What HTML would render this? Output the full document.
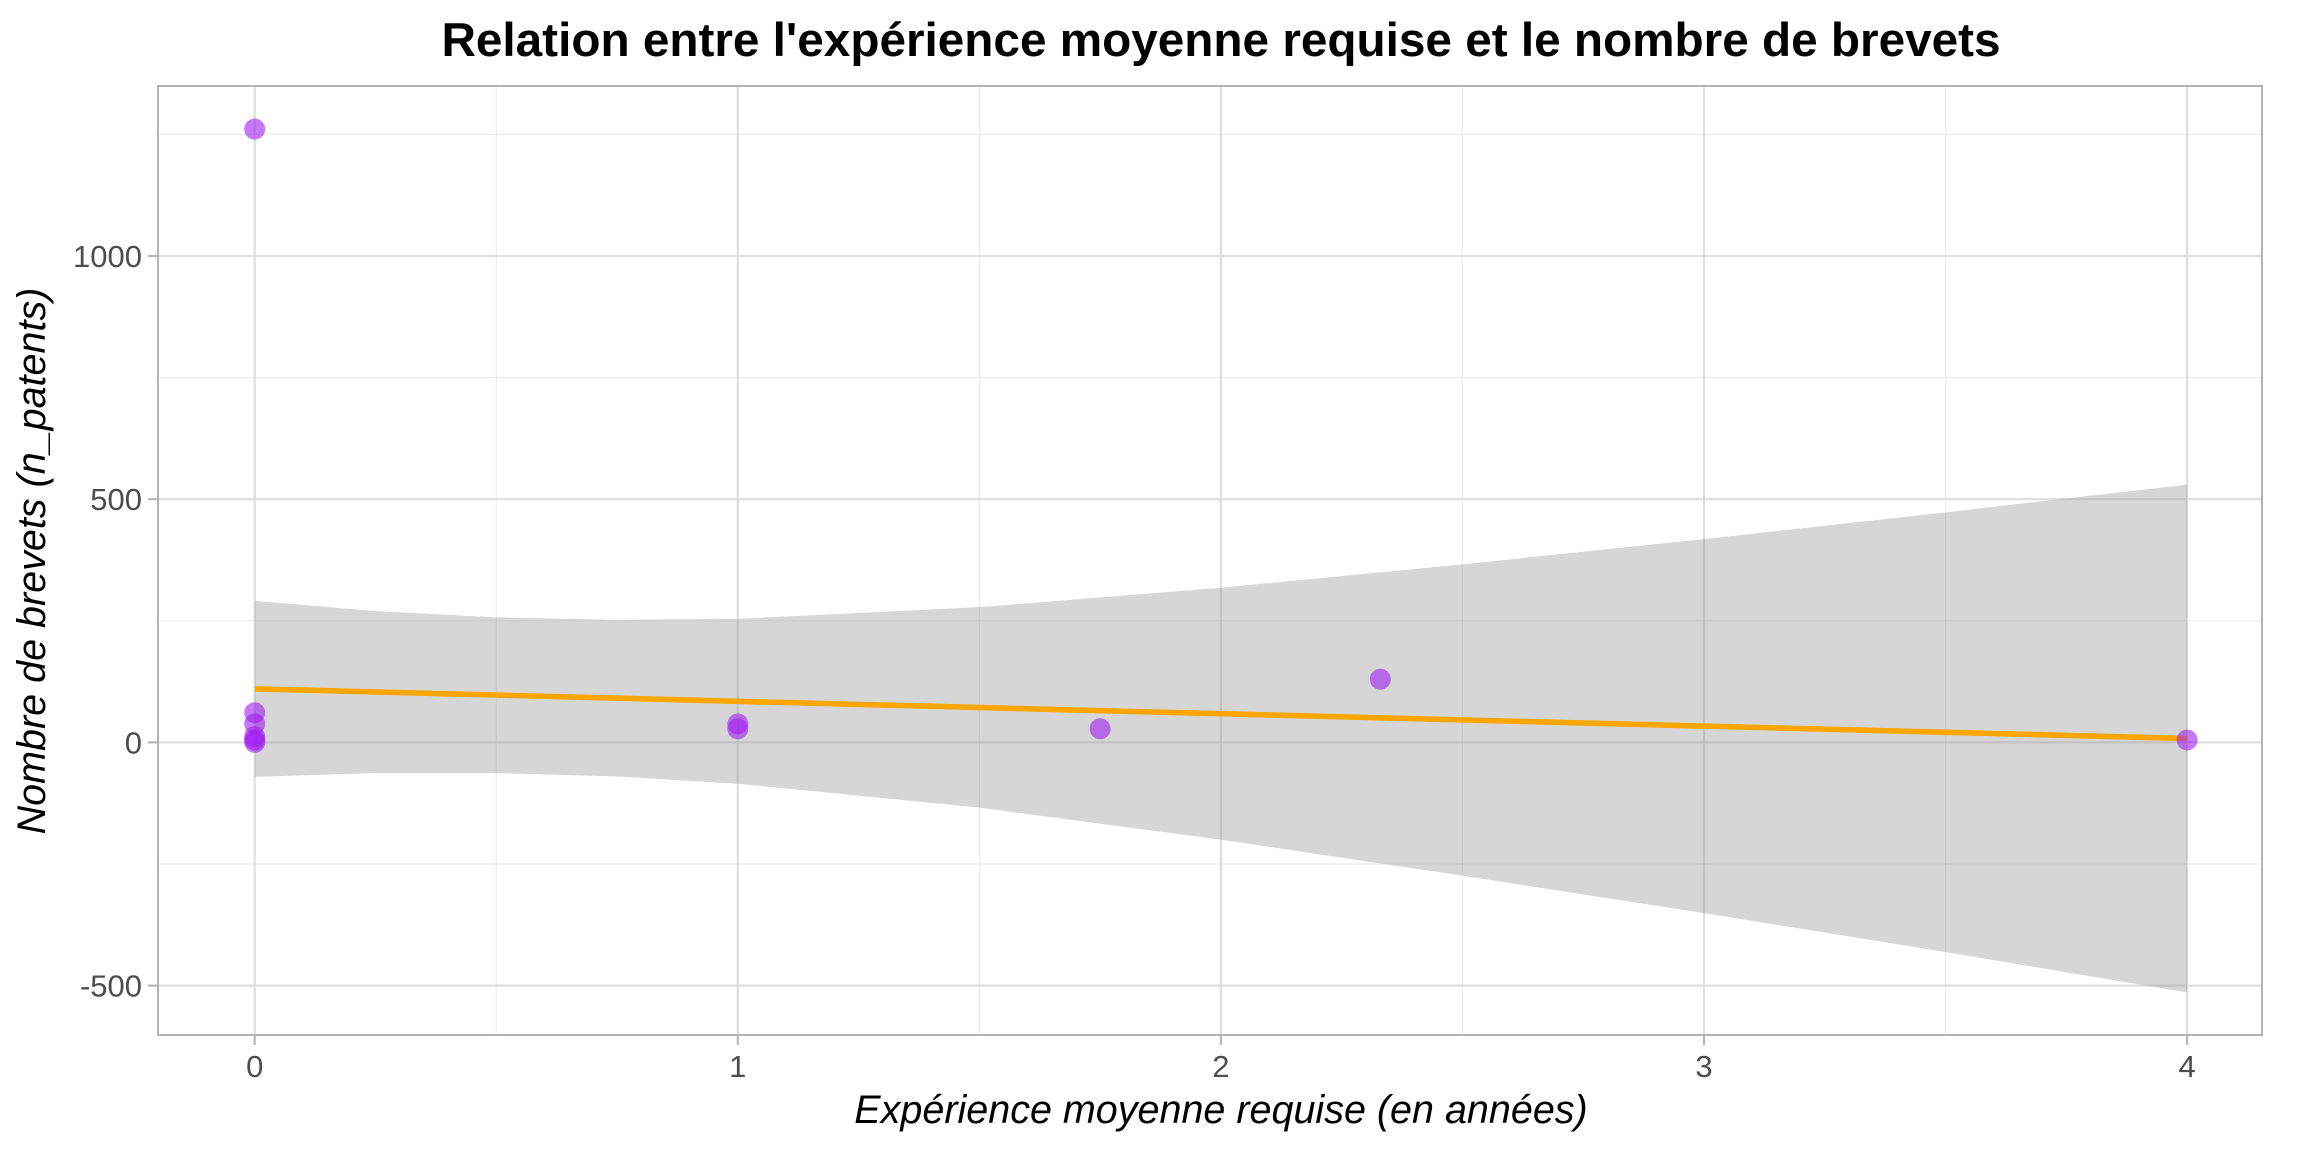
<!DOCTYPE html>
<html><head><meta charset="utf-8"><style>
html,body{margin:0;padding:0;background:#fff;}
svg{display:block;font-family:"Liberation Sans",sans-serif;}
</style></head><body>
<svg id="chart" width="2304" height="1152" viewBox="0 0 2304 1152" xmlns="http://www.w3.org/2000/svg">
<rect width="2304" height="1152" fill="#fff"/>
<text x="1221" y="56" text-anchor="middle" font-size="47.7" font-weight="bold" fill="#000">Relation entre l'expérience moyenne requise et le nombre de brevets</text>
<g id="grid"></g>
<g id="ribbon"></g>
<g id="fit"></g>
<g id="pts"></g>
<g id="axes"></g>
<text x="1221" y="1123" text-anchor="middle" font-size="39.5" font-style="italic" fill="#000">Expérience moyenne requise (en années)</text>
<text transform="translate(45,561) rotate(-90)" text-anchor="middle" font-size="39.5" font-style="italic" fill="#000">Nombre de brevets (n_patents)</text>
</svg>
<script>
const xVals = [0,0,0,0,0,0,1,1,1.75,2.33,4];
const yVals = [1261,61,38,12,5,0,38,28,28,130,5];
const fitX = [0,4];
const fitY = [110,8];
const bandX = [0,0.25,0.5,0.75,1,1.5,2,2.5,3,3.5,4];
const bandUpper = [291,270,257,252,254,278,318,366,418,473,530];
const bandLower = [-71,-63,-63,-70,-85,-134,-200,-274,-351,-431,-514];
const xTicks = [0,1,2,3,4];
const xMinor = [0.5,1.5,2.5,3.5];
const yTicks = [-500,0,500,1000];
const yMinor = [-250,250,750,1250];

const L=158,R=2262,T=86,B=1035;
function sx(v){return 254.7+v*483.1;}
function sy(v){return 742.4-v*0.4864;}
const NS="http://www.w3.org/2000/svg";
function mk(tag,attrs,parent){const e=document.createElementNS(NS,tag);for(const k in attrs)e.setAttribute(k,attrs[k]);parent.appendChild(e);return e;}

const grid=document.getElementById('grid');
yMinor.forEach(v=>{const e=mk('line',{x1:L,x2:R,y1:sy(v),y2:sy(v),stroke:'#ebebeb','stroke-width':1.2},grid);

});
xMinor.forEach(v=>{const e=mk('line',{x1:sx(v),x2:sx(v),y1:T,y2:B,stroke:'#ebebeb','stroke-width':1.2},grid);

});
yTicks.forEach(v=>{const e=mk('line',{x1:L,x2:R,y1:sy(v),y2:sy(v),stroke:'#dedede','stroke-width':2.2},grid);

});
xTicks.forEach(v=>{const e=mk('line',{x1:sx(v),x2:sx(v),y1:T,y2:B,stroke:'#dedede','stroke-width':2.2},grid);

});

let d='';
bandX.forEach((x,i)=>{d+=(i?'L':'M')+sx(x)+','+sy(bandUpper[i]);});
for(let i=bandX.length-1;i>=0;i--)d+='L'+sx(bandX[i])+','+sy(bandLower[i]);
d+='Z';
const rib=mk('path',{d:d,fill:'#999999','fill-opacity':0.4},document.getElementById('ribbon'));



const fl=mk('line',{x1:sx(fitX[0]),y1:sy(fitY[0]),x2:sx(fitX[1]),y2:sy(fitY[1]),stroke:'#FFA500','stroke-width':5.5},document.getElementById('fit'));



const pts=document.getElementById('pts');
xVals.forEach((x,i)=>{const c=mk('circle',{cx:sx(x),cy:sy(yVals[i]),r:10.5,fill:'#A020F0','fill-opacity':0.6},pts);

});

const ax=document.getElementById('axes');
const border=mk('rect',{x:L,y:T,width:R-L,height:B-T,fill:'none',stroke:'#b3b3b3','stroke-width':2},ax);


xTicks.forEach(v=>{
 const t=mk('line',{x1:sx(v),x2:sx(v),y1:B,y2:B+10,stroke:'#b3b3b3','stroke-width':2},ax);
 
 
 const l=mk('text',{x:sx(v),y:1077,'text-anchor':'middle','font-size':31,fill:'#4d4d4d'},ax);
 l.textContent=v;
 
 
});
yTicks.forEach(v=>{
 const t=mk('line',{x1:L-10,x2:L,y1:sy(v),y2:sy(v),stroke:'#b3b3b3','stroke-width':2},ax);
 
 
 const l=mk('text',{x:L-16,y:sy(v)+11,'text-anchor':'end','font-size':31,fill:'#4d4d4d'},ax);
 l.textContent=v;
 
 
});
</script>
</body></html>
